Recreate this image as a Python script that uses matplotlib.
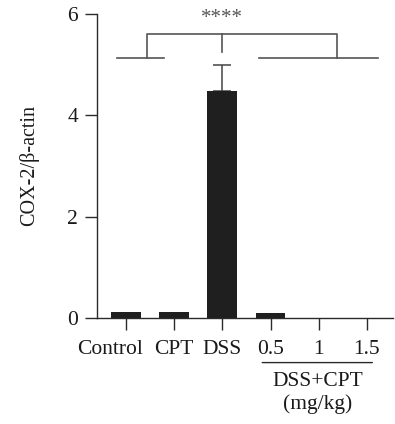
import numpy as np
import matplotlib
matplotlib.use("Agg")
import matplotlib.pyplot as plt
from matplotlib.transforms import ScaledTranslation

plt.rcParams['font.family'] = ['Liberation Serif', 'DejaVu Serif']

# data
groups = ["Control", "CPT", "DSS", "0.5", "1", "1.5"]
ratio = [0.11, 0.11, 4.49, 0.09, 0.0, 0.0]
err_up = [0.0, 0.0, 0.50, 0.0, 0.0, 0.0]
yticks = [0, 2, 4, 6]

ink = "#2a2a2a"
fig = plt.figure(figsize=(3.95, 4.24), dpi=100)
ax = fig.add_axes([97 / 395, 106 / 424, 296 / 395, 304 / 424])

x = np.arange(len(groups))
ax.bar(x, ratio, width=0.62, color="#1f1f1f", zorder=2)
ax.errorbar(x[2], ratio[2], yerr=[[0], [err_up[2]]], fmt="none",
            ecolor="#444444", elinewidth=1.1, capsize=6.5, capthick=1.1, zorder=1)

ax.set_xlim(-0.6, 5.54)
ax.set_ylim(0, 6)
ax.set_yticks(yticks)
ax.set_xticks(x)
ax.set_xticklabels(groups)

for s in ["top", "right"]:
    ax.spines[s].set_visible(False)
for s in ["left", "bottom"]:
    ax.spines[s].set_color(ink)
    ax.spines[s].set_linewidth(1.0)
ax.tick_params(axis="both", length=8.5, width=1.0, color=ink,
               labelsize=15.5, labelcolor="#1a1a1a")
ax.tick_params(axis="x", pad=7)
ax.tick_params(axis="y", pad=5)
ax.set_ylabel("COX-2/β-actin", fontsize=14.5, color="#1a1a1a", labelpad=20)

# the "Control" label sits left of its tick in the original
lab = ax.get_xticklabels()[0]
lab.set_transform(lab.get_transform() + ScaledTranslation(-0.16, 0, fig.dpi_scale_trans))

# significance bracket
gray = "#555555"
kw = dict(color=gray, lw=1.2, clip_on=False)
ax.plot([-0.19, 0.79], [5.14, 5.14], **kw)
ax.plot([2.77, 5.23], [5.14, 5.14], **kw)
ax.plot([0.44, 0.44, 4.375, 4.375], [5.14, 5.6, 5.6, 5.14], **kw)
ax.plot([2.0, 2.0], [5.6, 5.25], **kw)
ax.text(2.0, 5.72, "****", ha="center", va="bottom", fontsize=15, color=gray)

# group annotation under the dose labels
ax.annotate("", xy=(2.77, -0.88), xytext=(5.17, -0.88), xycoords="data",
            arrowprops=dict(arrowstyle="-", color=ink, lw=1.0), annotation_clip=False)
ax.text(3.97, -1.26, "DSS+CPT", ha="center", va="center", fontsize=15.5, color="#1a1a1a")
ax.text(3.97, -1.70, "(mg/kg)", ha="center", va="center", fontsize=15.5, color="#1a1a1a")

fig.savefig("out.png", dpi=100)
